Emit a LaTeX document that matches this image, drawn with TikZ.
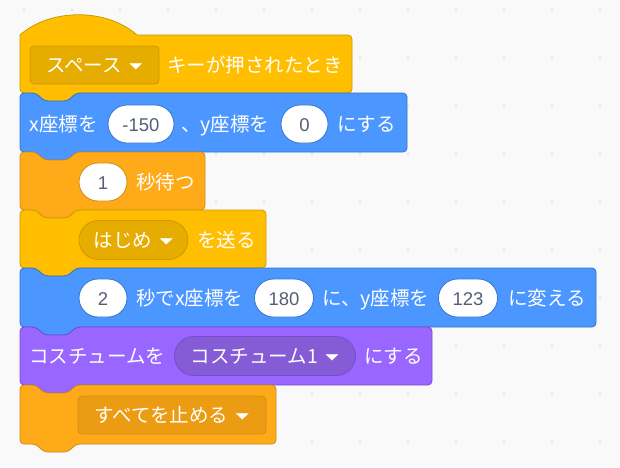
\documentclass[tikz,border=0pt]{standalone}
\usepackage{fontspec}
\setmainfont{Noto Sans CJK JP}
\newfontfamily\numfont{Liberation Sans}
\usetikzlibrary{shapes.misc}

\definecolor{bgGray}{HTML}{F9F9F9}
\definecolor{gridDot}{HTML}{DDDDDD}
\definecolor{eventsYellow}{HTML}{FFBF00}
\definecolor{eventsDark}{HTML}{CC9900}
\definecolor{eventsField}{HTML}{E6AC00}
\definecolor{motionBlue}{HTML}{4C97FF}
\definecolor{motionDark}{HTML}{3373CC}
\definecolor{controlOrange}{HTML}{FFAB19}
\definecolor{controlDark}{HTML}{CF8B17}
\definecolor{controlField}{HTML}{EC9C13}
\definecolor{looksPurple}{HTML}{9966FF}
\definecolor{looksDark}{HTML}{774DCB}
\definecolor{looksField}{HTML}{855CD6}
\definecolor{inputGray}{HTML}{575E75}

\newcommand\blockfont{\fontsize{19.5}{22}\selectfont}
\newcommand\inputfont{\numfont\fontsize{18.5}{20}\selectfont}
\newcommand\ddarrow{\hspace{7pt}\raisebox{3pt}{\scalebox{1}[0.55]{\fontsize{14}{14}\selectfont ▼}}}

% stack block: style, right edge, top, bottom
\newcommand\stackblock[4]{%
  \filldraw[#1, rounded corners=4pt] (20,#3+20) -- (20,#3) -- (36,#3) -- (44,#3+8) -- (68,#3+8) -- (76,#3)
    -- (#2,#3) -- (#2,#4) -- (76,#4) -- (68,#4+8) -- (44,#4+8) -- (36,#4) -- (20,#4) -- cycle;}

\begin{document}
\begin{tikzpicture}[x=1pt, y=-1pt,
  every node/.style={text height=14pt, text depth=0pt},
  lbl/.style={anchor=west, inner sep=0pt, text=white, font=\blockfont},
  numin/.style={rounded rectangle, fill=white, draw=#1, line width=0.8pt, minimum height=38pt, inner sep=0pt, text=inputGray, font=\inputfont},
  ddpill/.style 2 args={rounded rectangle, fill=#1, draw=#2, line width=0.8pt, minimum height=39pt, inner sep=0pt, text=white, font=\blockfont},
  ddbox/.style 2 args={rectangle, rounded corners=4pt, fill=#1, draw=#2, line width=0.8pt, minimum height=38pt, inner sep=0pt, text=white, font=\blockfont},
  events/.style={fill=eventsYellow, draw=eventsDark, line width=0.8pt},
  motion/.style={fill=motionBlue, draw=motionDark, line width=0.8pt},
  control/.style={fill=controlOrange, draw=controlDark, line width=0.8pt},
  looks/.style={fill=looksPurple, draw=looksDark, line width=0.8pt},
]
  % background with dot grid
  \fill[bgGray] (0,0) rectangle (620,467);
  \foreach \gx in {24,72,...,600}
    \foreach \gy in {10,58,...,442}
      \fill[gridDot] (\gx,\gy) circle (1.2pt);

  % hat block
  \filldraw[events] (20,60) -- (20,35) .. controls (50.5,8) and (106.6,8) .. (137,35)
    [rounded corners=4pt] -- (352,35) -- (352,93) -- (76,93) -- (68,101) -- (44,101) -- (36,93) -- (20,93) -- cycle;
  \node[ddbox={eventsField}{eventsDark}, minimum width=129pt] (keyMenu) at (94.5,65) {スペース\ddarrow};
  \node[lbl] (keyText) at (167,65) {キーが押されたとき};

  % go to x y
  \stackblock{motion}{407}{93}{152}
  \node[lbl] (gotoX) at (29.5,124) {x座標を};
  \node[numin=motionDark, minimum width=66pt] (gotoXin) at (141,124) {-150};
  \node[lbl] (gotoY) at (181,124) {、y座標を};
  \node[numin=motionDark, minimum width=47pt] (gotoYin) at (304.5,124) {0};
  \node[lbl] (gotoEnd) at (337,124) {にする};

  % wait
  \stackblock{control}{205}{152}{210}
  \node[numin=controlDark, minimum width=48pt] (waitIn) at (103,182) {1};
  \node[lbl] (waitText) at (136,182) {秒待つ};

  % broadcast
  \stackblock{events}{266}{210}{268}
  \node[ddpill={eventsField}{eventsDark}, minimum width=109pt] (msgMenu) at (133.5,240) {はじめ\ddarrow};
  \node[lbl] (msgText) at (197,240) {を送る};

  % glide
  \stackblock{motion}{596}{268}{327}
  \node[numin=motionDark, minimum width=48pt] (glideT) at (103,298) {2};
  \node[lbl] (glideA) at (136,298) {秒でx座標を};
  \node[numin=motionDark, minimum width=59pt] (glideX) at (284,298) {180};
  \node[lbl] (glideB) at (322,298) {に、y座標を};
  \node[numin=motionDark, minimum width=59pt] (glideY) at (468,298) {123};
  \node[lbl] (glideC) at (508,298) {に変える};

  % switch costume
  \stackblock{looks}{432}{327}{385}
  \node[lbl] (costA) at (29,356) {コスチュームを};
  \node[ddpill={looksField}{looksDark}, minimum width=181pt] (costMenu) at (265,356) {コスチューム1\ddarrow};
  \node[lbl] (costB) at (364,356) {にする};

  % stop
  \stackblock{control}{276}{385}{444}
  \node[ddbox={controlField}{controlDark}, minimum width=188pt] (stopMenu) at (172,415) {すべてを止める\ddarrow};
\end{tikzpicture}
\end{document}
